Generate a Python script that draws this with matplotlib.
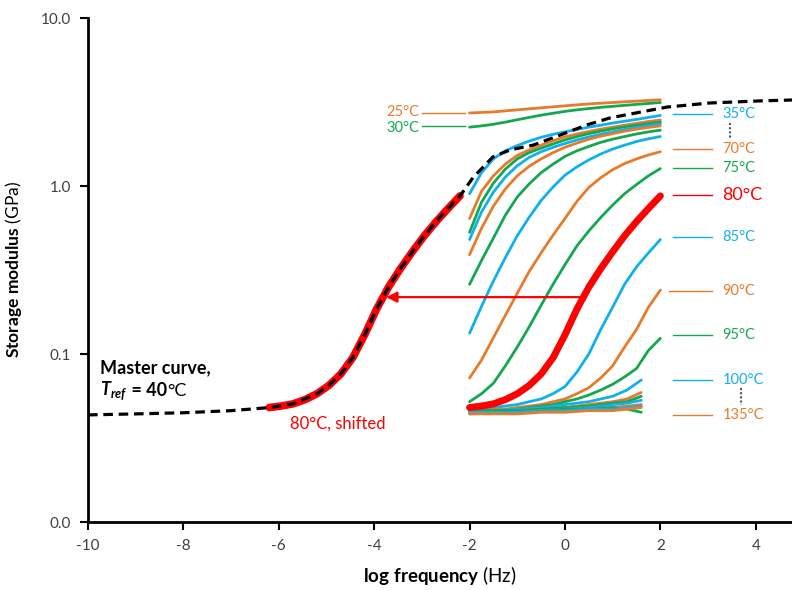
import numpy as np
import matplotlib.pyplot as plt
from matplotlib.offsetbox import TextArea, HPacker, AnnotationBbox

plt.rcParams['font.family'] = ['Lato', 'DejaVu Sans']
plt.rcParams['mathtext.fontset'] = 'custom'
plt.rcParams['mathtext.rm'] = 'Lato'
plt.rcParams['mathtext.bf'] = 'Lato:bold'
plt.rcParams['mathtext.it'] = 'Lato:bold:italic'
plt.rcParams['axes.unicode_minus'] = False

ORANGE = '#E77B2C'
GREEN = '#13A84F'
BLUE = '#10B0EE'
RED = '#FF0000'

# measured sweeps, log frequency -2..2 (GPa)
freq = [-2, -1.75, -1.5, -1.25, -1, -0.75, -0.5, -0.25, 0, 0.25, 0.5, 0.75, 1, 1.25, 1.5, 1.75, 2]
g25 = [2.72, 2.74, 2.76, 2.80, 2.84, 2.88, 2.92, 2.96, 3.00, 3.04, 3.08, 3.11, 3.14, 3.17, 3.20, 3.23, 3.26]
g30 = [2.24, 2.28, 2.33, 2.40, 2.48, 2.56, 2.64, 2.71, 2.78, 2.84, 2.89, 2.94, 2.98, 3.02, 3.06, 3.10, 3.14]
g35 = [0.90, 1.20, 1.45, 1.62, 1.74, 1.85, 1.95, 2.03, 2.10, 2.17, 2.24, 2.30, 2.37, 2.43, 2.49, 2.56, 2.63]
g40 = [0.64, 0.93, 1.15, 1.35, 1.52, 1.64, 1.75, 1.86, 1.96, 2.04, 2.11, 2.18, 2.24, 2.30, 2.36, 2.42, 2.47]
g45 = [0.53, 0.80, 1.04, 1.26, 1.45, 1.58, 1.68, 1.78, 1.88, 1.97, 2.05, 2.12, 2.19, 2.25, 2.30, 2.35, 2.40]
g50 = [0.48, 0.70, 0.92, 1.13, 1.32, 1.48, 1.60, 1.70, 1.79, 1.88, 1.96, 2.03, 2.10, 2.17, 2.23, 2.29, 2.35]
g55 = [0.39, 0.56, 0.76, 0.96, 1.15, 1.31, 1.45, 1.58, 1.70, 1.80, 1.90, 1.98, 2.05, 2.12, 2.18, 2.23, 2.28]
g60 = [0.26, 0.36, 0.49, 0.67, 0.86, 1.03, 1.20, 1.35, 1.50, 1.62, 1.72, 1.82, 1.90, 1.97, 2.04, 2.10, 2.15]
g65 = [0.133, 0.192, 0.272, 0.375, 0.506, 0.652, 0.820, 0.986, 1.16, 1.30, 1.43, 1.55, 1.66, 1.75, 1.84, 1.91, 1.97]
g70 = [0.072, 0.092, 0.125, 0.17, 0.23, 0.31, 0.40, 0.51, 0.64, 0.81, 0.98, 1.12, 1.25, 1.36, 1.45, 1.53, 1.60]
g75 = [0.052, 0.058, 0.067, 0.085, 0.11, 0.145, 0.195, 0.26, 0.34, 0.44, 0.54, 0.65, 0.77, 0.90, 1.02, 1.15, 1.27]
g80 = [0.048, 0.049, 0.0505, 0.0535, 0.058, 0.065, 0.076, 0.095, 0.130, 0.185, 0.250, 0.322, 0.406, 0.505, 0.614, 0.735, 0.873]
g85 = [0.047, 0.047, 0.048, 0.049, 0.050, 0.052, 0.054, 0.058, 0.064, 0.078, 0.10, 0.14, 0.19, 0.26, 0.33, 0.40, 0.48]
g90 = [0.046, 0.046, 0.047, 0.047, 0.048, 0.049, 0.050, 0.052, 0.054, 0.058, 0.063, 0.072, 0.085, 0.11, 0.14, 0.19, 0.24]
g95 = [0.046, 0.046, 0.046, 0.046, 0.047, 0.048, 0.049, 0.050, 0.052, 0.054, 0.057, 0.061, 0.066, 0.073, 0.082, 0.105, 0.124]

# high temperature sweeps stop near 1.6
freq_hot = [-2, -1.5, -1, -0.5, 0, 0.5, 1, 1.3, 1.6]
g100 = [0.046, 0.046, 0.047, 0.048, 0.050, 0.052, 0.056, 0.061, 0.070]
g105 = [0.045, 0.045, 0.046, 0.047, 0.048, 0.050, 0.052, 0.054, 0.059]
g110 = [0.046, 0.046, 0.046, 0.047, 0.048, 0.049, 0.051, 0.052, 0.056]
g115 = [0.044, 0.045, 0.045, 0.046, 0.047, 0.048, 0.050, 0.051, 0.053]
g120 = [0.045, 0.045, 0.046, 0.046, 0.047, 0.047, 0.048, 0.049, 0.050]
g125 = [0.046, 0.046, 0.046, 0.046, 0.047, 0.047, 0.048, 0.047, 0.045]
g130 = [0.045, 0.045, 0.045, 0.046, 0.046, 0.047, 0.047, 0.048, 0.049]
g135 = [0.044, 0.044, 0.044, 0.045, 0.045, 0.046, 0.046, 0.047, 0.048]

# master curve at Tref = 40 C
master_x = [-10, -9, -8, -7, -6.2, -5.7, -5.2, -4.95, -4.7, -4.45, -4.2, -3.95, -3.7,
            -3.45, -3.2, -2.95, -2.7, -2.45, -2.2, -1.93, -1.51, -1.15, -0.67, -0.10,
            0.46, 0.94, 1.57, 2.14, 3.04, 4.09, 4.76]
master_y = [0.0434, 0.0440, 0.0447, 0.0460, 0.048, 0.0505, 0.058, 0.065, 0.076, 0.095,
            0.130, 0.185, 0.250, 0.322, 0.406, 0.505, 0.614, 0.735, 0.873, 1.12, 1.49,
            1.64, 1.75, 2.01, 2.31, 2.54, 2.75, 2.95, 3.12, 3.21, 3.25]
shift_80 = -4.2

fig = plt.figure(figsize=(7.92, 5.9), dpi=100)
ax = fig.add_axes([88/792, 68/590, 704/792, 504/590])

cold = [(g25, ORANGE), (g30, GREEN), (g35, BLUE), (g40, ORANGE), (g45, GREEN),
        (g50, BLUE), (g55, ORANGE), (g60, GREEN), (g65, BLUE), (g70, ORANGE),
        (g75, GREEN), (g85, BLUE), (g90, ORANGE), (g95, GREEN)]
for g, c in cold:
    ax.plot(freq, g, color=c, lw=2, solid_capstyle='round')
hot = [(g100, BLUE), (g105, ORANGE), (g110, GREEN), (g115, BLUE), (g120, ORANGE),
       (g125, GREEN), (g130, BLUE), (g135, ORANGE)]
for g, c in hot:
    ax.plot(freq_hot, g, color=c, lw=2, solid_capstyle='round')

ax.plot(freq, g80, color=RED, lw=5, solid_capstyle='round')
ax.plot(np.array(freq) + shift_80, g80, color=RED, lw=5.5, solid_capstyle='round')
ax.plot(master_x, master_y, color='black', lw=2.3, dashes=(3, 1.8))

ax.set_yscale('log')
ax.set_ylim(0.01, 10)
ax.set_xlim(-10, 4.76)
ax.set_yticks([0.01, 0.1, 1, 10])
ax.set_yticklabels(['0.0', '0.1', '1.0', '10.0'])
ax.set_xticks(range(-10, 5, 2))
ax.minorticks_off()
ax.tick_params(axis='both', direction='out', length=6, width=1.5, labelsize=11,
               labelcolor='#404040', pad=6)
for s in ['top', 'right']:
    ax.spines[s].set_visible(False)
for s in ['left', 'bottom']:
    ax.spines[s].set_linewidth(2)

ax.set_xlabel(r'$\mathbf{log\ frequency}$ (Hz)', fontsize=13.5, labelpad=8)
ax.set_ylabel(r'$\mathbf{Storage\ modulus}$ (GPa)', fontsize=12.5, labelpad=12)

# right-hand labels
lab_y = [2.68, 1.66, 1.28, 0.88, 0.50, 0.237, 0.130, 0.070, 0.0434]
lab_t = ['35°C', '70°C', '75°C', '80°C', '85°C', '90°C', '95°C', '100°C', '135°C']
lab_c = [BLUE, ORANGE, GREEN, RED, BLUE, ORANGE, GREEN, BLUE, ORANGE]
for y, t, c in zip(lab_y, lab_t, lab_c):
    x0 = 2.18 if t == '90°C' else 2.26
    ax.plot([x0, 3.08], [y, y], color=c, lw=1)
    fs = 13 if t == '80°C' else 10.5
    ax.text(3.3, y, t, color=c, fontsize=fs, va='center', ha='left')
ax.plot([3.45, 3.45], [2.37, 1.93], color='#555555', lw=1.5, ls=(0, (1, 1)))
ax.plot([3.69, 3.69], [0.063, 0.050], color='#555555', lw=1.5, ls=(0, (1, 1)))

# left labels for 25 and 30
ax.plot([-3.0, -2.1], [2.72, 2.72], color=ORANGE, lw=1)
ax.plot([-3.0, -2.1], [2.28, 2.28], color=GREEN, lw=1)
ax.text(-3.05, 2.76, '25°C', color=ORANGE, fontsize=10.5, va='center', ha='right')
ax.text(-3.05, 2.22, '30°C', color=GREEN, fontsize=10.5, va='center', ha='right')

ax.annotate('', xy=(-3.75, 0.218), xytext=(0.31, 0.218),
            arrowprops=dict(arrowstyle='-|>', color=RED, lw=1.6,
                            mutation_scale=16, shrinkA=0, shrinkB=0))
ax.text(-5.77, 0.0385, '80°C, shifted', color=RED, fontsize=12, va='center', ha='left')
ax.text(-9.75, 0.083, 'Master curve,', fontsize=13, fontweight='bold', va='center')

parts = [TextArea(r'$T_{ref}$', textprops=dict(fontsize=13)),
         TextArea(' = 40', textprops=dict(fontsize=13, fontweight='bold')),
         TextArea('°C', textprops=dict(fontsize=13))]
box = HPacker(children=parts, align='baseline', pad=0, sep=0)
ax.add_artist(AnnotationBbox(box, (-9.75, 0.060), xycoords='data', frameon=False,
                             box_alignment=(0, 0.5), pad=0))

fig.savefig('out.png', dpi=100)
